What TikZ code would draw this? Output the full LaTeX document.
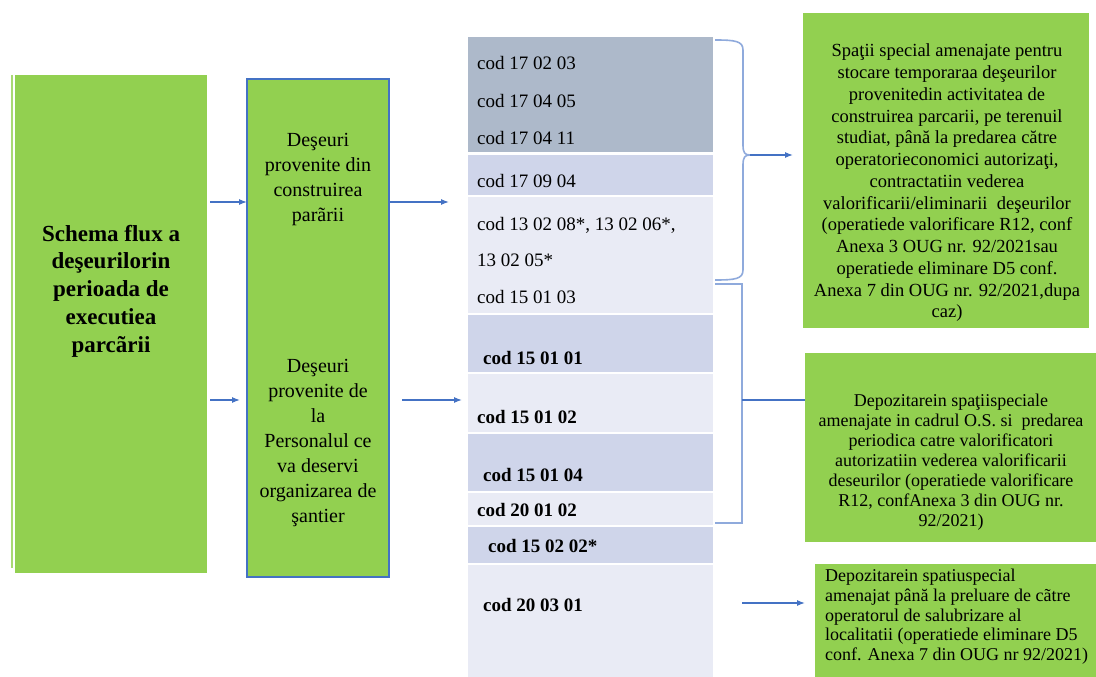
\documentclass[tikz,border=0pt]{standalone}
\usepackage{fontspec}
\setmainfont{Liberation Serif}
\usetikzlibrary{arrows.meta}
\definecolor{grn}{HTML}{92D050}
\definecolor{rowdark}{HTML}{ADB9CA}
\definecolor{rowmid}{HTML}{CFD5EA}
\definecolor{rowlight}{HTML}{E9EBF5}
\definecolor{arrblue}{HTML}{4472C4}
\definecolor{brblue}{HTML}{8FAADC}
\definecolor{boxedge}{HTML}{4472C4}
\begin{document}
\begin{tikzpicture}[x=1pt,y=-1pt,
  gbox/.style={fill=grn, draw=none, inner sep=0pt, outer sep=0pt, anchor=north west},
  rowbox/.style={draw=none, inner sep=0pt, outer sep=0pt, anchor=north west, minimum width=245pt},
  codetxt/.style={anchor=west, inner sep=0pt, font=\fontsize{19}{23}\selectfont},
  codebold/.style={anchor=west, inner sep=0pt, font=\fontsize{19}{23}\selectfont\bfseries},
  arr/.style={draw=arrblue, line width=1.2pt, -{Latex[length=8pt,width=6pt]}},
  plainline/.style={draw=arrblue, line width=1.2pt},
  brace/.style={draw=brblue, line width=1.6pt}
]
\useasboundingbox (0,0) rectangle (1096,677);

% left title box
\draw[draw=grn!80!white, line width=2pt] (12,75) -- (12,568);
\node[gbox, minimum width=192pt, minimum height=498pt] (title) at (15,75) {};
\node[align=center, inner sep=0pt, font=\fontsize{23}{27.7}\selectfont\bfseries] (titletxt) at (111,291)
  {Schema flux a\\ deşeurilorin\\ perioada de\\ executiea\\ parcãrii};

% second box
\node[gbox, draw=boxedge, line width=1.3pt, minimum width=142pt, minimum height=498pt] (src) at (247,79) {};
\node[align=center, inner sep=0pt, font=\fontsize{20}{25}\selectfont] (srcA) at (318,180)
  {Deşeuri\\ provenite din\\ construirea\\ parãrii};
\node[align=center, inner sep=0pt, font=\fontsize{20}{25}\selectfont] (srcB) at (318,443)
  {Deşeuri\\ provenite de\\ la\\ Personalul ce\\ va deservi\\ organizarea de\\ şantier};

% code column rows
\node[rowbox, fill=rowdark,  minimum height=115pt] (r1) at (468,37) {};
\node[rowbox, fill=rowmid,   minimum height=40pt]  (r2) at (468,155) {};
\node[rowbox, fill=rowlight, minimum height=116pt] (r3) at (468,197) {};
\node[rowbox, fill=rowmid,   minimum height=57pt]  (r4) at (468,315) {};
\node[rowbox, fill=rowlight, minimum height=58pt]  (r5) at (468,374) {};
\node[rowbox, fill=rowmid,   minimum height=57pt]  (r6) at (468,434) {};
\node[rowbox, fill=rowlight, minimum height=32pt]  (r7) at (468,493) {};
\node[rowbox, fill=rowmid,   minimum height=36pt]  (r8) at (468,527) {};
\node[rowbox, fill=rowlight, minimum height=112pt] (r9) at (468,565) {};

\node[codetxt] (c1) at (477,63)  {cod 17 02 03};
\node[codetxt] (c2) at (477,101) {cod 17 04 05};
\node[codetxt] (c3) at (477,138) {cod 17 04 11};
\node[codetxt] (c4) at (477,181) {cod 17 09 04};
\node[codetxt] (c5) at (477,225) {cod 13 02 08*, 13 02 06*,};
\node[codetxt] (c6) at (477,260) {13 02 05*};
\node[codetxt] (c7) at (477,297) {cod 15 01 03};
\node[codebold] (c8)  at (483,358) {cod 15 01 01};
\node[codebold] (c9)  at (477,417) {cod 15 01 02};
\node[codebold] (c10) at (483,475) {cod 15 01 04};
\node[codebold] (c11) at (477,510) {cod 20 01 02};
\node[codebold] (c12) at (488,546) {cod 15 02 02*};
\node[codebold] (c13) at (483,605) {cod 20 03 01};

% right boxes
\node[gbox, minimum width=286pt, minimum height=315pt] (d1) at (803,13) {};
\node[align=center, inner sep=0pt, font=\fontsize{18.5}{21.75}\selectfont] (d1txt) at (947,183)
  {Spaţii special amenajate pentru\\
   stocare temporaraa deşeurilor\\
   provenitedin activitatea de\\
   construirea parcarii, pe terenuil\\
   studiat, până la predarea către\\
   operatorieconomici autorizaţi,\\
   contractatiin vederea\\
   valorificarii/eliminarii~~deşeurilor\\
   (operatiede valorificare R12, conf\\
   Anexa 3 OUG nr. 92/2021sau\\
   operatiede eliminare D5 conf.\\
   Anexa 7 din OUG nr. 92/2021,dupa\\
   caz)};

\node[gbox, minimum width=291pt, minimum height=189pt] (d2) at (805,353) {};
\node[align=center, inner sep=0pt, font=\fontsize{18}{20}\selectfont] (d2txt) at (951,462)
  {Depozitarein spaţiispeciale\\
   amenajate in cadrul O.S. si~~predarea\\
   periodica catre valorificatori\\
   autorizatiin vederea valorificarii\\
   deseurilor (operatiede valorificare\\
   R12, confAnexa 3 din OUG nr.\\
   92/2021)};

\node[gbox, minimum width=281pt, minimum height=113pt] (d3) at (815,564) {};
\node[align=left, anchor=north west, inner sep=0pt, font=\fontsize{18}{19.7}\selectfont] (d3txt) at (825,569)
  {Depozitarein spatiuspecial\\
   amenajat până la preluare de cãtre\\
   operatorul de salubrizare al\\
   localitatii (operatiede eliminare D5\\
   conf. Anexa 7 din OUG nr 92/2021)};

% arrows title -> source box
\coordinate (t1) at (210,202);
\coordinate (t2) at (210,400);
\draw[arr] (t1) -- (t1 -| src.west);
\draw[arr] (t2) -- ([xshift=-7pt]t2 -| src.west);

% arrows source box -> codes
\coordinate (s1) at (389,202);
\coordinate (s2) at (402,400);
\draw[arr] (s1) -- (449,202);
\draw[arr] (s2) -- (462,400);

% upper brace
\coordinate (brtip) at (750,155);
\draw[brace] (715,40) .. controls (735,40) and (743,41) .. (743,50)
  -- (743,145) .. controls (743,153) and (745,155) .. (brtip)
  .. controls (745,155) and (743,157) .. (743,165)
  -- (743,270) .. controls (743,279) and (735,280) .. (715,280);
\draw[arr] (brtip) -- ([xshift=-10pt]brtip -| d1.west);

% lower bracket
\draw[brace] (715,284) -- (742,284) -- (742,523) -- (715,523);
\coordinate (brmid) at (742,400);
\draw[plainline] (brmid) -- (brmid -| d2.west);

% bottom arrow
\coordinate (b1) at (742,603);
\draw[arr] (b1) -- ([xshift=-10pt]b1 -| d3.west);
\end{tikzpicture}
\end{document}
